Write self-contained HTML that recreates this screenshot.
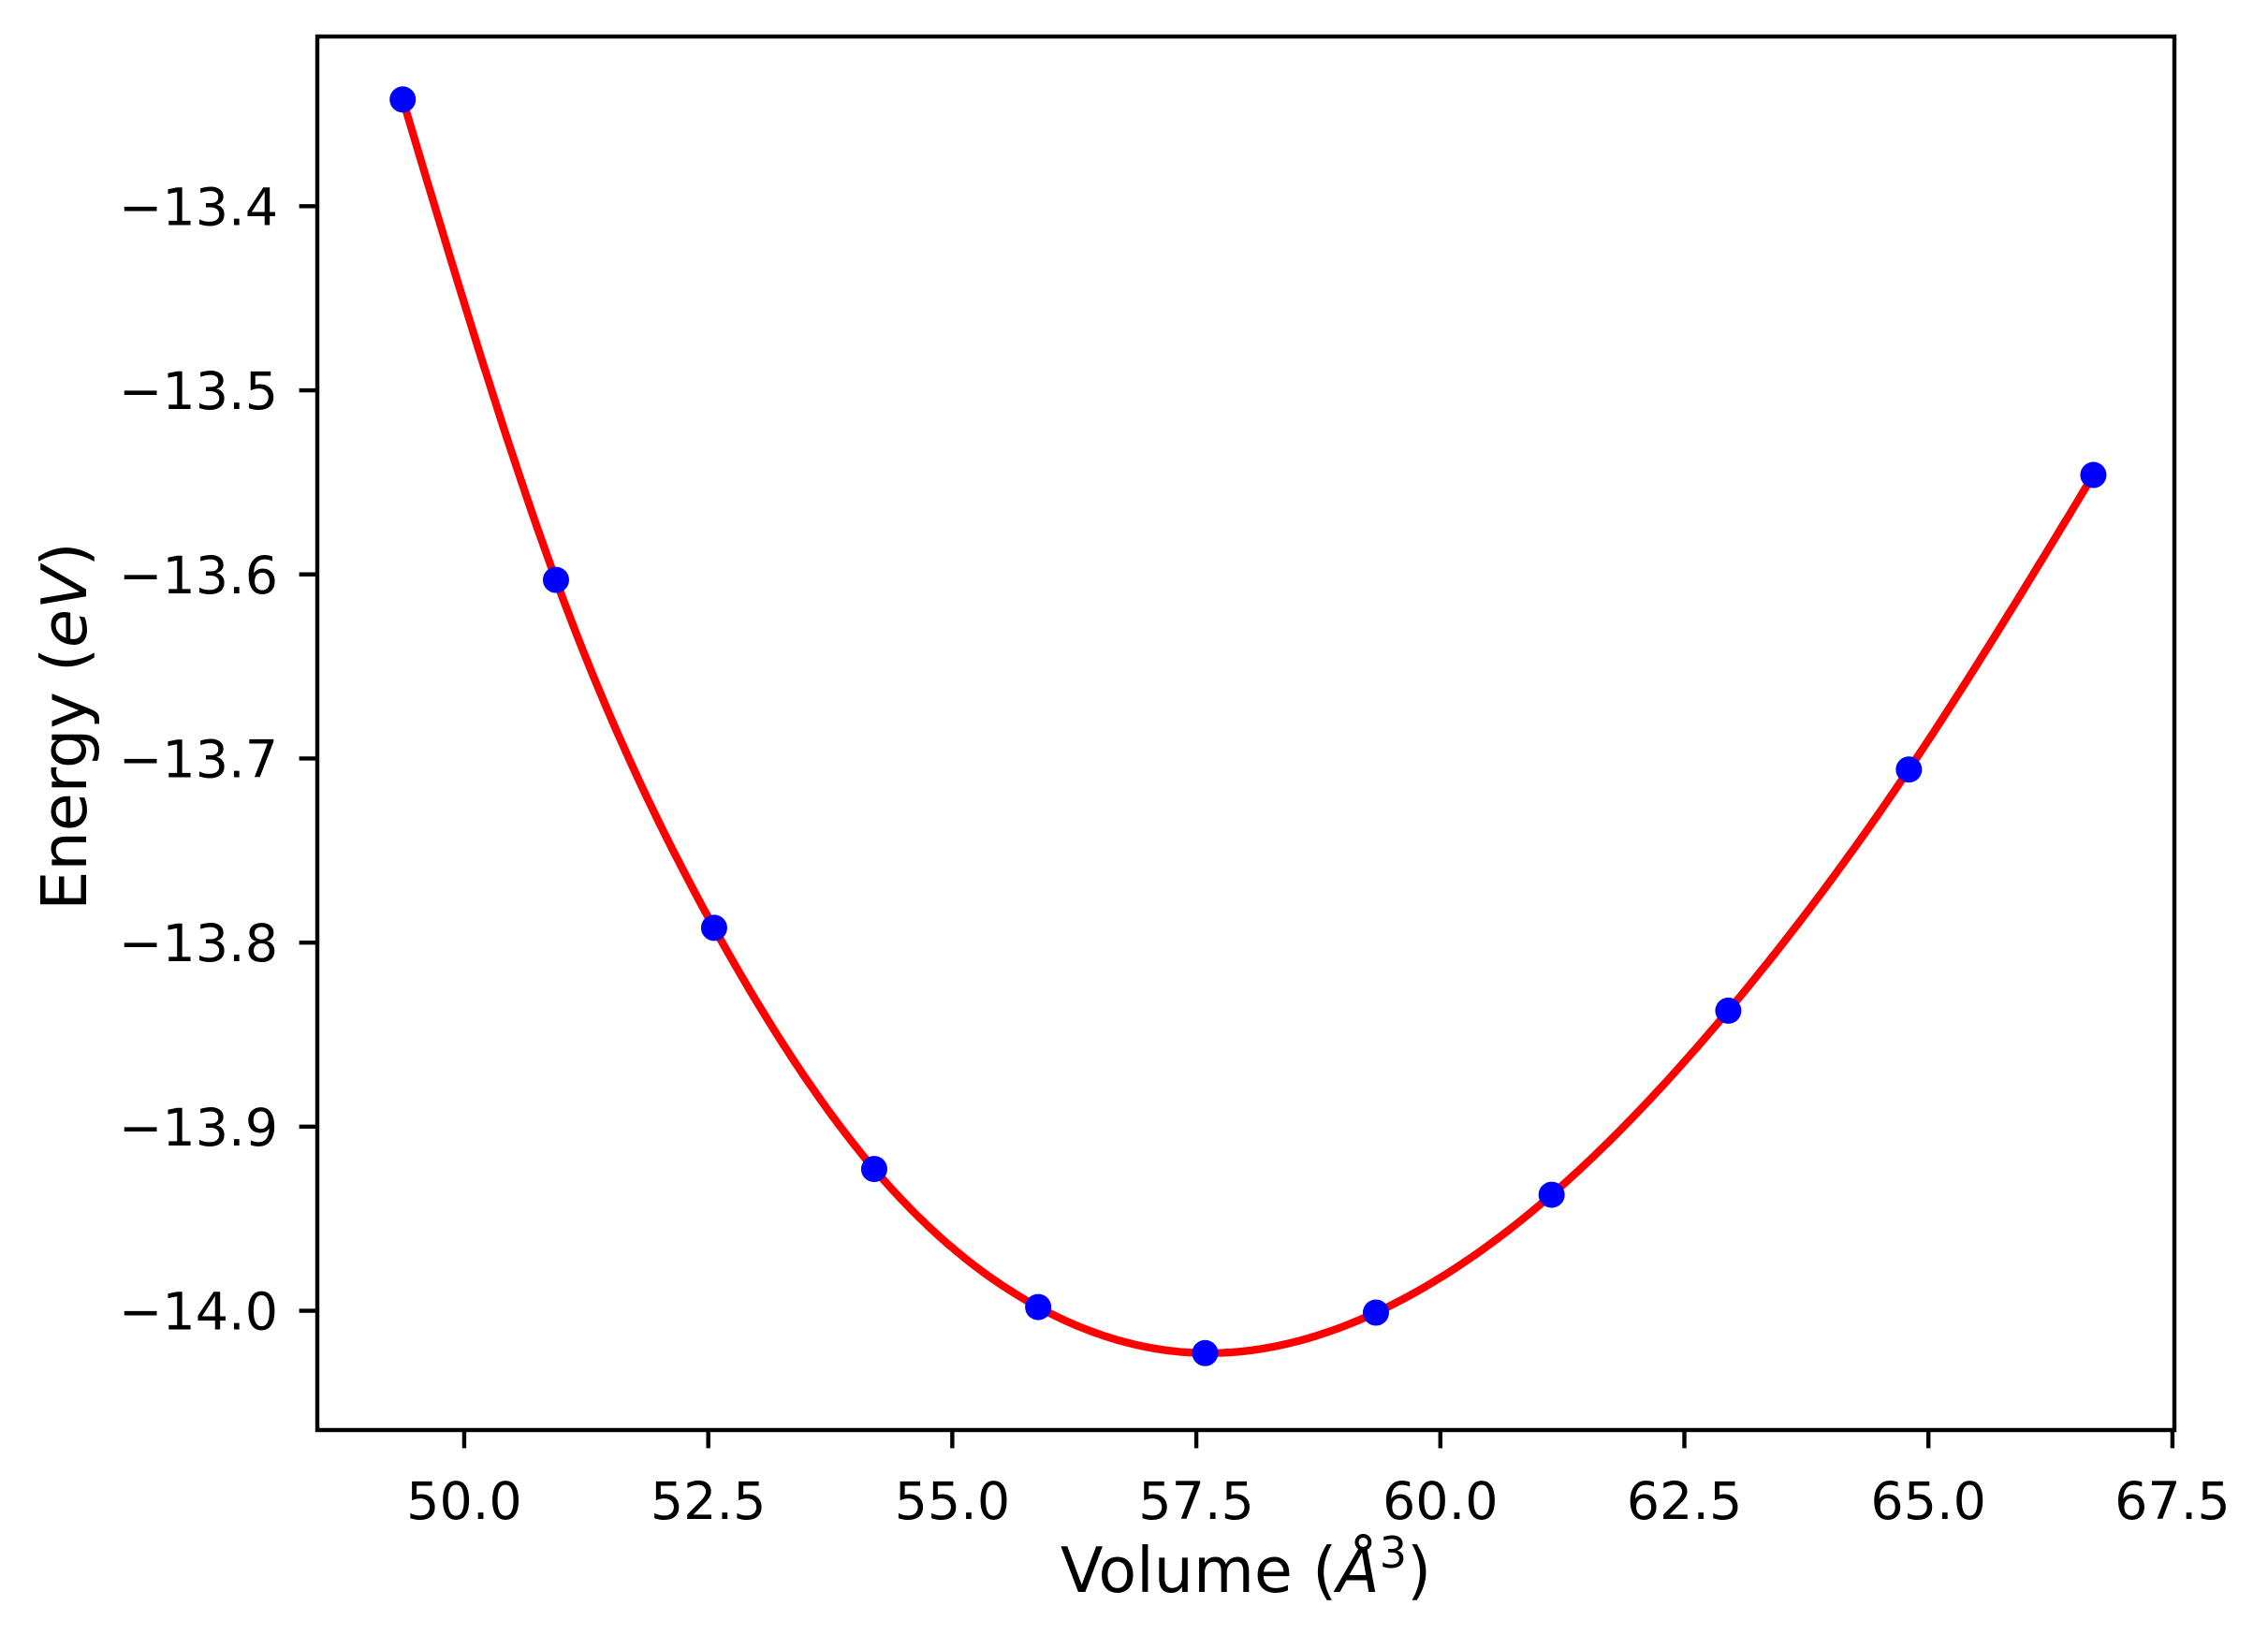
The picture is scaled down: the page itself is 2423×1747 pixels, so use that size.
<!DOCTYPE html>
<html><head><meta charset="utf-8"><style>
html,body{margin:0;padding:0;background:#fff;}
svg{display:block;}
text{font-family:"DejaVu Sans","Liberation Sans",sans-serif;fill:#000;}
</style></head><body>
<svg id="chart" width="2423" height="1747" viewBox="0 0 2423 1747" xmlns="http://www.w3.org/2000/svg">
<rect x="0" y="0" width="2423" height="1747" fill="#fff"/>
<g id="plot"></g>
<g id="axes"></g>
<text x="1331" y="1701" font-size="66.7" text-anchor="middle">Volume (<tspan font-style="italic">Å</tspan><tspan font-size="46" dy="-26">3</tspan><tspan dy="26">)</tspan></text>
<text transform="translate(92,776) rotate(-90)" font-size="66.7" text-anchor="middle">Energy (<tspan font-style="italic">eV</tspan>)</text>
</svg>
<script>
const volumes = [49.37, 50.94, 52.56, 54.20, 55.88, 57.59, 59.34, 61.14, 62.95, 64.80, 66.69];
const energies = [-13.342, -13.603, -13.792, -13.923, -13.998, -14.023, -14.001, -13.937, -13.837, -13.706, -13.546];
const xTicks = [50.0, 52.5, 55.0, 57.5, 60.0, 62.5, 65.0, 67.5];
const yTicks = [-13.4, -13.5, -13.6, -13.7, -13.8, -13.9, -14.0];

const L=339,R=2323,T=39,B=1528;
const xMin=48.495,xMax=67.52,yMin=-14.0648,yMax=-13.3078;
const xs=v=>L+(v-xMin)/(xMax-xMin)*(R-L);
const ys=e=>B-(e-yMin)/(yMax-yMin)*(B-T);
const NS='http://www.w3.org/2000/svg';
const plot=document.getElementById('plot'), axes=document.getElementById('axes');
function mk(tag,attrs,parent){const el=document.createElementNS(NS,tag);for(const k in attrs)el.setAttribute(k,attrs[k]);parent.appendChild(el);return el;}

// natural cubic spline through data
function spline(x,y){
  const n=x.length,h=[],a=[],l=[1],mu=[0],z=[0],c=new Array(n).fill(0),b=[],d=[];
  for(let i=0;i<n-1;i++)h.push(x[i+1]-x[i]);
  for(let i=1;i<n-1;i++)a[i]=3/h[i]*(y[i+1]-y[i])-3/h[i-1]*(y[i]-y[i-1]);
  for(let i=1;i<n-1;i++){l[i]=2*(x[i+1]-x[i-1])-h[i-1]*mu[i-1];mu[i]=h[i]/l[i];z[i]=(a[i]-h[i-1]*z[i-1])/l[i];}
  for(let j=n-2;j>=0;j--){c[j]=(j<n-1&&j>0?z[j]:0)-mu[j]*c[j+1];if(j===0)c[0]=0;b[j]=(y[j+1]-y[j])/h[j]-h[j]*(c[j+1]+2*c[j])/3;d[j]=(c[j+1]-c[j])/(3*h[j]);}
  return t=>{let i=0;while(i<n-2&&t>x[i+1])i++;const dx=t-x[i];return y[i]+b[i]*dx+c[i]*dx*dx+d[i]*dx*dx*dx;};
}
const f=spline(volumes,energies);
let pts=[];const v0=volumes[0],v1=volumes[volumes.length-1];
for(let k=0;k<=400;k++){const v=v0+(v1-v0)*k/400;pts.push(xs(v).toFixed(1)+','+ys(f(v)).toFixed(1));}
const line=mk('polyline',{points:pts.join(' '),fill:'none',stroke:'#ff0000','stroke-width':8.3,'stroke-linejoin':'round'},plot);


volumes.forEach((v,i)=>{
  const c=mk('circle',{cx:xs(v),cy:ys(energies[i]),r:14,fill:'#0000ff'},plot);
  
  
});
const frame=mk('rect',{x:L,y:T,width:R-L,height:B-T,fill:'none',stroke:'#000','stroke-width':4.4},axes);


xTicks.forEach(t=>{
  const x=xs(t);
  const tk=mk('line',{x1:x,y1:B,x2:x,y2:B+19.4,stroke:'#000','stroke-width':4.4},axes);
  
  
  const tx=mk('text',{x:x,y:1623,'font-size':55.5,'text-anchor':'middle'},axes);
  tx.textContent=t.toFixed(1);
  
  
});
yTicks.forEach(t=>{
  const y=ys(t);
  const tk=mk('line',{x1:L-19.4,y1:y,x2:L,y2:y,stroke:'#000','stroke-width':4.4},axes);
  
  
  const tx=mk('text',{x:297,y:y+20,'font-size':55.5,'text-anchor':'end'},axes);
  tx.textContent='\u2212'+Math.abs(t).toFixed(1);
  
  
});
</script>
</body></html>
